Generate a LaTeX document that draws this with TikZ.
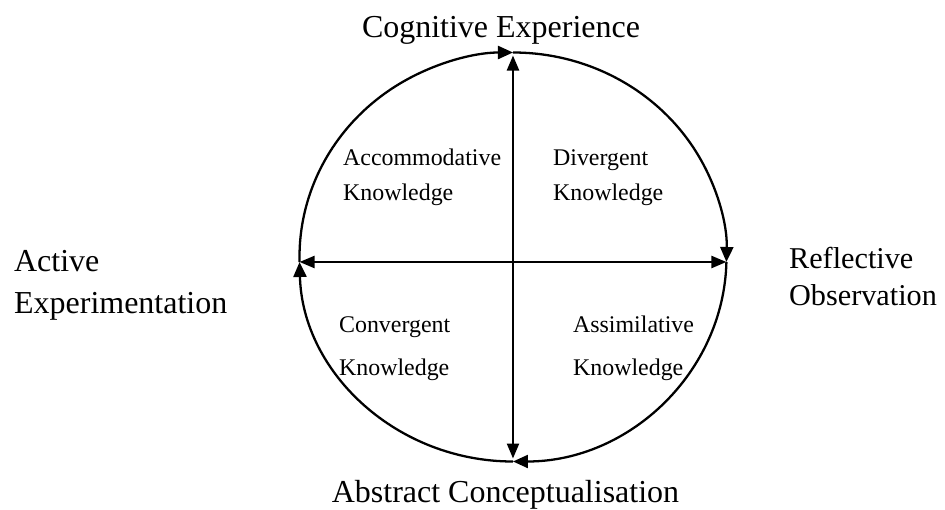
\documentclass[tikz,border=0pt]{standalone}
\usepackage{fontspec}
\setmainfont{Liberation Serif}
\usetikzlibrary{arrows.meta}

\begin{document}
\begin{tikzpicture}[line width=1.3pt,
  cyc/.style={-{Triangle[length=0.3cm,width=0.26cm]}},
  axis/.style={{Triangle[length=0.3cm,width=0.24cm]}-{Triangle[length=0.3cm,width=0.24cm]}},
  big/.style={font=\fontsize{18.2}{22.4}\selectfont,inner sep=0pt},
  small/.style={font=\fontsize{13.6}{19.8}\selectfont,align=left,inner sep=0pt,anchor=base west}]
\useasboundingbox (-10.26,-5.04) rectangle (8.64,5.14);
% four points of the cycle
\coordinate (T) at (90:4.27 and 4.09);
\coordinate (R) at (-1.4:4.27 and 4.09);
\coordinate (B) at (-90:4.27 and 4.09);
\coordinate (L) at (181.4:4.27 and 4.09);
\foreach \p/\a/\b in {L/181.4/90,T/90/-1.4,R/-1.4/-90,B/-90/-178.6}
\draw[cyc] (\p) arc[start angle=\a,end angle=\b,x radius=4.27,y radius=4.09];
\draw[axis,shorten <=0.06cm,shorten >=0.06cm] (T)--(B);
\draw[axis] (L)--(R);
% stage names
\node[big,anchor=base] (exp) at (-0.24,4.4) {Cognitive Experience};
\node[big,anchor=base] (con) at (-0.15,-4.9) {Abstract Conceptualisation};
\node[big,align=left,anchor=base west] (act) at (-10,-1.12) {Active\\[0.05cm]Experimentation};
\node[big,font=\fontsize{17.2}{20.8}\selectfont,align=left,anchor=base west] (ref) at (5.5,-0.96) {Reflective\\Observation};
% kinds of knowledge
\node[small] (acc) at (-3.42,1.14) {Accommodative\\Knowledge};
\node[small] (div) at (0.78,1.14) {Divergent\\Knowledge};
\node[small] (cnv) at (-3.5,-2.36) {Convergent\\[0.16cm]Knowledge};
\node[small] (asm) at (1.18,-2.36) {Assimilative\\[0.16cm]Knowledge};
\end{tikzpicture}
\end{document}
